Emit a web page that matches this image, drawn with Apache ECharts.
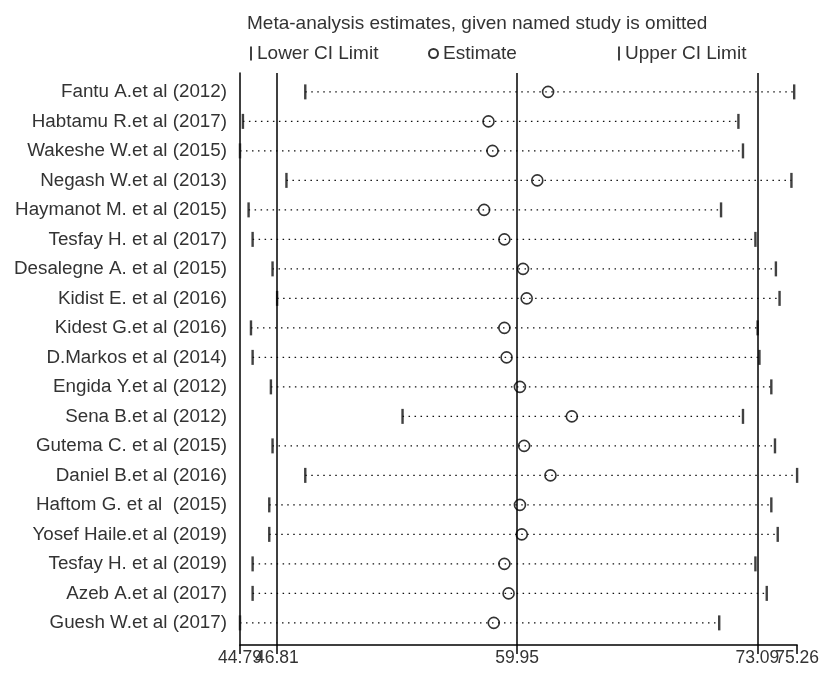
<!DOCTYPE html>
<html>
<head>
<meta charset="utf-8">
<script src="https://cdn.jsdelivr.net/npm/echarts@6/dist/echarts.min.js"></script>
<style>
html,body{margin:0;padding:0;background:#fff;}
#chart{width:822px;height:679px;}
</style>
</head>
<body>
<div id="chart"></div>
<script>
const studies = [
  'Fantu A.et al (2012)','Habtamu R.et al (2017)','Wakeshe W.et al (2015)','Negash W.et al (2013)',
  'Haymanot M. et al (2015)','Tesfay H. et al (2017)','Desalegne A. et al (2015)','Kidist E. et al (2016)',
  'Kidest G.et al (2016)','D.Markos et al (2014)','Engida Y.et al (2012)','Sena B.et al (2012)',
  'Gutema C. et al (2015)','Daniel B.et al (2016)','Haftom G. et al  (2015)','Yosef Haile.et al (2019)',
  'Tesfay H. et al (2019)','Azeb A.et al (2017)','Guesh W.et al (2017)'
];
const lower    = [48.36, 44.95, 44.79, 47.33, 45.26, 45.48, 46.57, 46.82, 45.39, 45.48, 46.48, 53.68, 46.57, 48.36, 46.39, 46.39, 45.48, 45.48, 44.79];
const estimate = [61.64, 58.38, 58.60, 61.05, 58.14, 59.25, 60.27, 60.47, 59.25, 59.37, 60.10, 62.94, 60.33, 61.77, 60.10, 60.20, 59.25, 59.48, 58.67];
const upper    = [75.10, 72.05, 72.30, 74.95, 71.10, 72.98, 74.10, 74.30, 73.10, 73.20, 73.85, 72.30, 74.05, 75.26, 73.85, 74.20, 72.98, 73.60, 71.00];
const xTicks = [44.79, 46.81, 59.95, 73.09, 75.26];
const tickLabels = ['44.79', '46.81', '59.95', '73.09', '75.26'];
const refLines = [46.81, 59.95, 73.09];
const titleText = 'Meta-analysis estimates, given named study is omitted';
const legendNames = ['Lower CI Limit', 'Estimate', 'Upper CI Limit'];

const FONT = "'Liberation Sans', Arial, sans-serif";
const TXT = '#333';
const tickIcon = 'path://M0,0 L2,0 L2,14 L0,14 Z';

const chart = echarts.init(document.getElementById('chart'), null, {renderer: 'canvas'});
const idx = studies.map((_, i) => i);

// ticks split over two axes so that the overlapping labels are all drawn (as in the reference)
const ticksA = xTicks.filter((_, k) => k % 2 === 0);
const ticksB = xTicks.filter((_, k) => k % 2 === 1);
const fmtTick = v => {
  const k = xTicks.findIndex(t => Math.abs(t - v) < 1e-6);
  return k >= 0 ? tickLabels[k] : '';
};
const baseX = (vals, showLine) => ({
  type: 'value', min: xTicks[0], max: xTicks[xTicks.length - 1], position: 'bottom',
  splitLine: {show: false},
  axisLine: {show: showLine, onZero: false, lineStyle: {color: '#000', width: 1.5}},
  axisTick: {show: true, customValues: vals, length: 9, lineStyle: {color: '#000', width: 1.5}},
  axisLabel: {
    customValues: vals, fontSize: 17.5, color: TXT, fontFamily: FONT, margin: 4,
    showMinLabel: true, showMaxLabel: true, hideOverlap: false, formatter: fmtTick
  }
});

const option = {
  animation: false,
  backgroundColor: '#fff',
  textStyle: {fontFamily: FONT},
  title: {
    text: titleText, left: 242, top: 9,
    textStyle: {fontSize: 19, fontWeight: 'normal', color: TXT, fontFamily: FONT}
  },
  legend: [
    {data: [legendNames[0]], left: 245, top: 39, icon: tickIcon, itemWidth: 2, itemHeight: 14,
     textStyle: {fontSize: 19, color: TXT, fontFamily: FONT}},
    {data: [legendNames[1]], left: 423, top: 39, itemWidth: 9, itemHeight: 9,
     textStyle: {fontSize: 19, color: TXT, fontFamily: FONT}},
    {data: [legendNames[2]], left: 613, top: 39, icon: tickIcon, itemWidth: 2, itemHeight: 14,
     textStyle: {fontSize: 19, color: TXT, fontFamily: FONT}}
  ],
  grid: {left: 240, right: 23, top: 73, bottom: 34, containLabel: false},
  xAxis: [baseX(ticksA, true), baseX(ticksB, false)],
  yAxis: {
    type: 'value', inverse: true, min: -0.64, max: 18.75,
    splitLine: {show: false},
    axisLine: {show: true, onZero: false, lineStyle: {color: '#000', width: 1.5}},
    axisTick: {show: false},
    axisLabel: {
      customValues: idx, fontSize: 18.8, color: TXT, fontFamily: FONT, margin: 13,
      formatter: v => studies[Math.round(v)] || ''
    }
  },
  series: [
    {
      name: 'ci', type: 'custom', silent: true,
      data: idx.map(i => [lower[i], upper[i], i]),
      encode: {x: [0, 1], y: 2},
      renderItem: (params, api) => {
        const p1 = api.coord([api.value(0), api.value(2)]);
        const p2 = api.coord([api.value(1), api.value(2)]);
        return {
          type: 'line',
          shape: {x1: p1[0], y1: p1[1], x2: p2[0], y2: p2[1]},
          style: {stroke: '#111', lineWidth: 1.4, lineDash: [1.5, 4.5]}
        };
      },
      markLine: {
        silent: true, symbol: 'none', label: {show: false},
        lineStyle: {color: '#000', width: 1.5, type: 'solid'},
        data: refLines.map(v => ({xAxis: v}))
      },
      z: 1
    },
    {
      name: legendNames[0], type: 'scatter', symbol: 'rect', symbolSize: [2.4, 15],
      itemStyle: {color: '#111'},
      data: idx.map(i => [lower[i], i]), z: 3
    },
    {
      name: legendNames[1], type: 'scatter', symbol: 'circle', symbolSize: 11,
      itemStyle: {color: 'rgba(255,255,255,0)', borderColor: '#000', borderWidth: 1.6},
      data: idx.map(i => [estimate[i], i]), z: 3
    },
    {
      name: legendNames[2], type: 'scatter', symbol: 'rect', symbolSize: [2.4, 15],
      itemStyle: {color: '#111'},
      data: idx.map(i => [upper[i], i]), z: 3
    }
  ]
};
chart.setOption(option);
</script>
</body>
</html>
